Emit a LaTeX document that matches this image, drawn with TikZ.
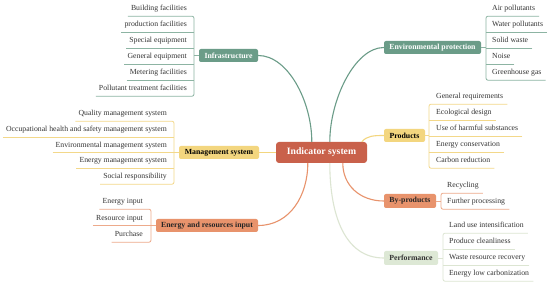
\documentclass[tikz,border=0pt]{standalone}
\usepackage{fontspec}
\setmainfont{Liberation Serif}
\definecolor{cRed}{HTML}{C9614B}
\definecolor{cGreen}{HTML}{6B9C88}
\definecolor{cGreenL}{HTML}{8DB4A3}
\definecolor{cYellow}{HTML}{F3D67F}
\definecolor{cYellowL}{HTML}{F3D88A}
\definecolor{cSalmon}{HTML}{E8936C}
\definecolor{cSalmonL}{HTML}{EDAA8B}
\definecolor{cPerf}{HTML}{DDE8D5}
\definecolor{cPerfL}{HTML}{DCE5D2}
\definecolor{leafgray}{HTML}{363636}
\newcommand{\leaffont}{\fontsize{7.75}{9}\selectfont}
\newcommand{\boxfont}{\fontsize{7.8}{9}\selectfont\bfseries}
\tikzset{
  leaf/.style={inner xsep=0pt, inner ysep=0pt, text height=5.5pt, text depth=5pt, font=\leaffont, text=leafgray},
  box/.style={rounded corners=2pt, inner sep=0pt, minimum height=13pt, font=\boxfont},
  branch/.style={line width=1.1pt},
  twig/.style={line width=0.8pt, rounded corners=2pt},
}
\begin{document}
\begin{tikzpicture}[x=1pt,y=-1pt]
\fill[white] (0,0) rectangle (550,286);
\useasboundingbox (0,0) rectangle (550,286);

% ---- main boxes
\node[box, rounded corners=3pt, fill=cRed, text=white, minimum width=91pt, minimum height=21pt,
      font=\fontsize{9.7}{11}\selectfont\bfseries] (c) at (321.5,152.5) {Indicator system};
\node[box, fill=cGreen, text=white, minimum width=59pt] (infra) at (228.5,55.5) {Infrastructure};
\node[box, fill=cGreen, text=white, minimum width=97pt] (env) at (432.5,47.5) {Environmental protection};
\node[box, fill=cYellow, text=black, minimum width=80pt] (mgmt) at (219,152.5) {Management system};
\node[box, fill=cSalmon, text=black!85, minimum width=102pt] (energy) at (207,225.5) {Energy and resources input};
\node[box, fill=cYellow, text=black, minimum width=41pt] (prod) at (404.5,135.5) {Products};
\node[box, fill=cSalmon, text=black!85, minimum width=52pt, minimum height=14pt] (byp) at (410,201) {By-products};
\node[box, fill=cPerf, text=black!80, minimum width=54pt, minimum height=14pt] (perf) at (411,258) {Performance};

% ---- anchor points on the central node
\coordinate (cI) at ([xshift=36pt]c.north west);
\coordinate (cE) at ([xshift=54pt]c.north west);
\coordinate (cP) at ([xshift=86pt]c.north west);
\coordinate (cEn) at ([xshift=32pt]c.south west);
\coordinate (cPf) at ([xshift=54pt]c.south west);
\coordinate (cB) at ([xshift=67pt]c.south west);

% ---- branches
\draw[branch, cGreen] (infra.east) .. controls +(30,0) and +(0,-40) .. (cI);
\draw[branch, cGreen] (env.west) .. controls +(-29,0) and +(0,-42) .. (cE);
\draw[branch, cYellow] (mgmt.east) -- (c.west);
\draw[branch, cYellow] (cP) .. controls +(5,-6) and +(-10,0) .. (prod.west);
\draw[branch, cSalmon] (cEn) .. controls +(0,32) and +(32,0) .. (energy.east);
\draw[branch, cSalmon] (cB) .. controls +(0,22) and +(-24,0) .. (byp.west);
\draw[branch, cPerfL] (cPf) .. controls +(0,52) and +(-39,0) .. (perf.west);

% ---- bracket coordinates
\coordinate (bI) at (194,0);
\coordinate (bM) at (174,0);
\coordinate (bN) at (151,0);
\coordinate (bE) at (486,0);
\coordinate (bP) at (429,0);
\coordinate (bB) at (441,0);
\coordinate (bF) at (443,0);

% ---- Infrastructure leaves
\node[leaf, anchor=base east] (i1) at (187,11) {Building facilities};
\node[leaf, anchor=base east] (i2) at (187,27) {production facilities};
\node[leaf, anchor=base east] (i3) at (187,43) {Special equipment};
\node[leaf, anchor=base east] (i4) at (187,59) {General equipment};
\node[leaf, anchor=base east] (i5) at (187,75) {Metering facilities};
\node[leaf, anchor=base east] (i6) at (187,91) {Pollutant treatment facilities};
\draw[twig, cGreenL] ([xshift=-3pt]i1.south west) -- (i1.south west -| bI) -- (i6.south west -| bI) -- ([xshift=-3pt]i6.south west);
\foreach \n in {i2,i3,i4,i5} \draw[twig, cGreenL] ([xshift=-3pt]\n.south west) -- (\n.south west -| bI);
\draw[twig, cGreenL] (infra.west) -- (infra.west -| bI);

% ---- Environmental protection leaves
\node[leaf, anchor=base west] (e1) at (492,11) {Air pollutants};
\node[leaf, anchor=base west] (e2) at (492,27) {Water pollutants};
\node[leaf, anchor=base west] (e3) at (492,43) {Solid waste};
\node[leaf, anchor=base west] (e4) at (492,59) {Noise};
\node[leaf, anchor=base west] (e5) at (492,75) {Greenhouse gas};
\draw[twig, cGreenL] ([xshift=4pt]e1.south east) -- (e1.south east -| bE) -- (e5.south east -| bE) -- ([xshift=4pt]e5.south east);
\foreach \n in {e2,e3,e4} \draw[twig, cGreenL] ([xshift=4pt]\n.south east) -- (\n.south east -| bE);
\draw[twig, cGreenL] (env.east) -- (env.east -| bE);

% ---- Management system leaves
\node[leaf, anchor=base east] (m1) at (167,116) {Quality management system};
\node[leaf, anchor=base east] (m2) at (167,132) {Occupational health and safety management system};
\node[leaf, anchor=base east] (m3) at (167,147.5) {Environmental management system};
\node[leaf, anchor=base east] (m4) at (167,163) {Energy management system};
\node[leaf, anchor=base east] (m5) at (167,179) {Social responsibility};
\draw[twig, cYellowL] ([xshift=-3pt]m1.south west) -- (m1.south west -| bM) -- (m5.south west -| bM) -- ([xshift=-3pt]m5.south west);
\foreach \n in {m2,m3,m4} \draw[twig, cYellowL] ([xshift=-3pt]\n.south west) -- (\n.south west -| bM);
\draw[twig, cYellowL] (mgmt.west) -- (mgmt.west -| bM);

% ---- Energy and resources input leaves
\node[leaf, anchor=base east] (n1) at (143,204) {Energy input};
\node[leaf, anchor=base east] (n2) at (143,220.5) {Resource input};
\node[leaf, anchor=base east] (n3) at (143,237) {Purchase};
\draw[twig, cSalmonL] ([xshift=-3pt]n1.south west) -- (n1.south west -| bN) -- (n3.south west -| bN) -- ([xshift=-3pt]n3.south west);
\draw[twig, cSalmonL] ([xshift=-3pt]n2.south west) -- (n2.south west -| bN);
\draw[twig, cSalmonL] (energy.west) -- (energy.west -| bN);

% ---- Products leaves
\node[leaf, anchor=base west] (p1) at (436,99) {General requirements};
\node[leaf, anchor=base west] (p2) at (436,115) {Ecological design};
\node[leaf, anchor=base west] (p3) at (436,131) {Use of harmful substances};
\node[leaf, anchor=base west] (p4) at (436,147) {Energy conservation};
\node[leaf, anchor=base west] (p5) at (436,163) {Carbon reduction};
\draw[twig, cYellowL] ([xshift=4pt]p1.south east) -- (p1.south east -| bP) -- (p5.south east -| bP) -- ([xshift=4pt]p5.south east);
\foreach \n in {p2,p3,p4} \draw[twig, cYellowL] ([xshift=4pt]\n.south east) -- (\n.south east -| bP);
\draw[twig, cYellowL] (prod.east) -- (prod.east -| bP);

% ---- By-products leaves
\node[leaf, anchor=base west] (y1) at (447,188) {Recycling};
\node[leaf, anchor=base west] (y2) at (447,204) {Further processing};
\draw[twig, cSalmonL] ([xshift=4pt]y1.south east) -- (y1.south east -| bB) -- (y2.south east -| bB) -- ([xshift=4pt]y2.south east);
\draw[twig, cSalmonL] (byp.east) -- (byp.east -| bB);

% ---- Performance leaves
\node[leaf, anchor=base west] (f1) at (449,228) {Land use intensification};
\node[leaf, anchor=base west] (f2) at (449,244) {Produce cleanliness};
\node[leaf, anchor=base west] (f3) at (449,260) {Waste resource recovery};
\node[leaf, anchor=base west] (f4) at (449,276) {Energy low carbonization};
\draw[twig, cPerfL] ([xshift=4pt]f1.south east) -- (f1.south east -| bF) -- (f4.south east -| bF) -- ([xshift=4pt]f4.south east);
\foreach \n in {f2,f3} \draw[twig, cPerfL] ([xshift=4pt]\n.south east) -- (\n.south east -| bF);
\draw[twig, cPerfL] (perf.east) -- (perf.east -| bF);
\end{tikzpicture}
\end{document}
